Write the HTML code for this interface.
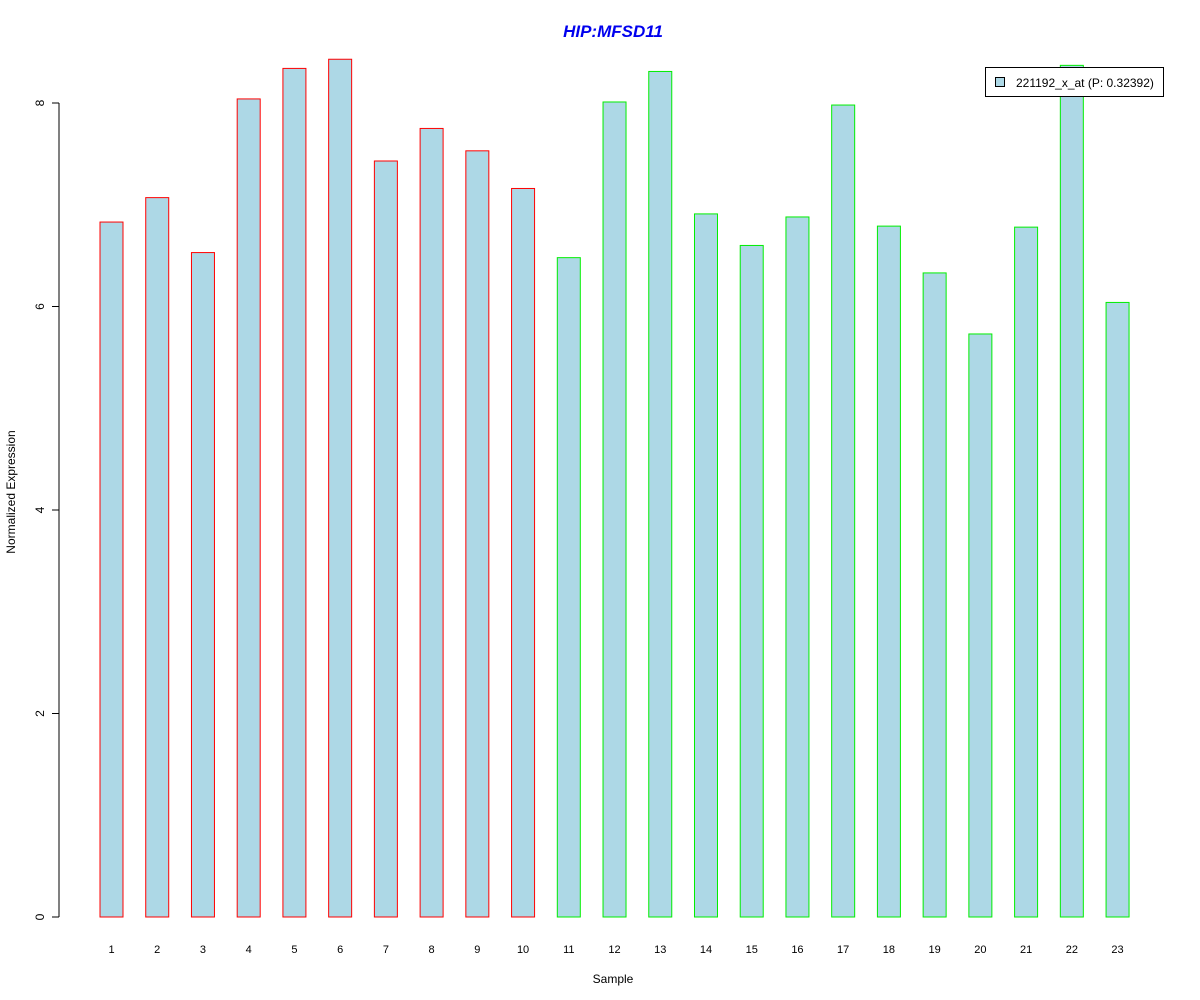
<!DOCTYPE html>
<html><head><meta charset="utf-8"><style>body{margin:0;background:#fff}svg{display:block;font-family:"Liberation Sans",Arial,sans-serif}</style></head>
<body>
<svg id="chart" width="1200" height="1000">
<text x="613" y="37" text-anchor="middle" font-size="17" font-weight="bold" font-style="italic" fill="#0000ee">HIP:MFSD11</text>
<text x="613" y="983" text-anchor="middle" font-size="12">Sample</text>
<text transform="translate(15,492) rotate(-90)" text-anchor="middle" font-size="12">Normalized Expression</text>
<line x1="59" y1="917" x2="59" y2="103" stroke="#000"/>
<g id="yticks"></g>
<g id="bars"></g>
<g id="xlabels"></g>
<g>
<rect x="985.5" y="67.5" width="178" height="29" fill="#fff" stroke="#000"/>
<rect x="995.5" y="77.5" width="9" height="9" fill="#add8e6" stroke="#000"/>
<text x="1016" y="87" font-size="12">221192_x_at (P: 0.32392)</text>
</g>
</svg>
<script>
const categories=["1","2","3","4","5","6","7","8","9","10","11","12","13","14","15","16","17","18","19","20","21","22","23"];
const values=[6.83,7.07,6.53,8.04,8.34,8.43,7.43,7.75,7.53,7.16,6.48,8.01,8.31,6.91,6.60,6.88,7.98,6.79,6.33,5.73,6.78,8.37,6.04];
const groups=["red","red","red","red","red","red","red","red","red","red","green","green","green","green","green","green","green","green","green","green","green","green","green"];
const yTicks=[0,2,4,6,8];
const NS="http://www.w3.org/2000/svg";
const y=v=>917-v*101.75;
const x=i=>111.5+i*45.73;
const bw=23;
const colors={red:"#ff0000",green:"#00ee00"};
const tg=document.getElementById("yticks");
yTicks.forEach(t=>{
  const l=document.createElementNS(NS,"line");
  l.setAttribute("x1",52);l.setAttribute("x2",59);l.setAttribute("y1",y(t));l.setAttribute("y2",y(t));l.setAttribute("stroke","#000");
  
  
  tg.appendChild(l);
  const tx=document.createElementNS(NS,"text");
  tx.setAttribute("transform",`translate(44,${y(t)}) rotate(-90)`);tx.setAttribute("text-anchor","middle");tx.setAttribute("font-size","12");tx.textContent=t;
  
  
  tg.appendChild(tx);
});
const bg=document.getElementById("bars"),xg=document.getElementById("xlabels");
values.forEach((v,i)=>{
  const r=document.createElementNS(NS,"rect");
  r.setAttribute("x",x(i)-bw/2);r.setAttribute("y",y(v));r.setAttribute("width",bw);r.setAttribute("height",917-y(v));
  r.setAttribute("fill","#add8e6");r.setAttribute("stroke",colors[groups[i]]);
  
  
  bg.appendChild(r);
  const t=document.createElementNS(NS,"text");
  t.setAttribute("x",x(i));t.setAttribute("y",953);t.setAttribute("text-anchor","middle");t.setAttribute("font-size","11");t.textContent=categories[i];
  
  
  xg.appendChild(t);
});
</script>
</body></html>
